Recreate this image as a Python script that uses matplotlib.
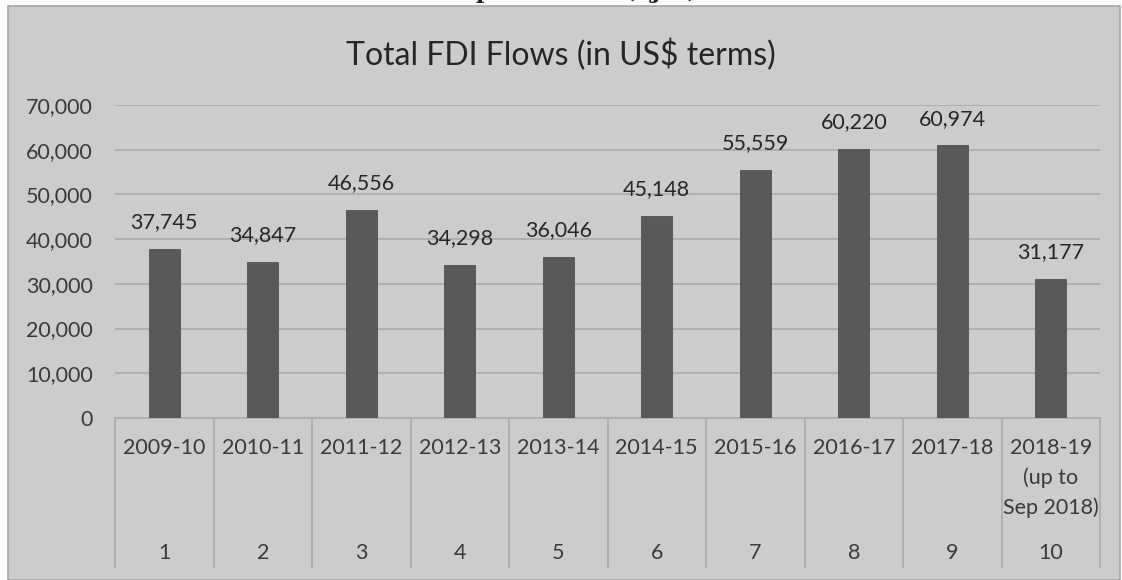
import matplotlib.pyplot as plt
from matplotlib.patches import Rectangle
from matplotlib.ticker import FuncFormatter

# FDI inflows by financial year (US$ million)
years = ["2009-10", "2010-11", "2011-12", "2012-13", "2013-14",
         "2014-15", "2015-16", "2016-17", "2017-18", "2018-19\n(up to\nSep 2018)"]
serial = ["1", "2", "3", "4", "5", "6", "7", "8", "9", "10"]
fdi = [37745, 34847, 46556, 34298, 36046, 45148, 55559, 60220, 60974, 31177]

BG = "#cccccc"
TXT = "#3a3a3a"
FS = 15.5
plt.rcParams["font.family"] = ["Lato", "DejaVu Sans"]

W, H = 1122, 580
fig = plt.figure(figsize=(W / 100, H / 100), dpi=100)
fig.patch.set_facecolor("white")

# chart frame
fig.patches.append(Rectangle((8 / W, 0), 1112 / W, 1 - 6 / H, transform=fig.transFigure,
                             facecolor=BG, edgecolor="#a6a6a6", linewidth=1.2, zorder=-5))
# page header cut off at the top edge
fig.text(0.55, 1 - 3 / H, "Impact Factor (SJIF) - 6.286", ha="center", va="bottom",
         fontsize=16, fontweight="bold", family="DejaVu Serif", color="#222222")

x0, x1, ytop, ybot = 115, 1100, 105, 418
ax = fig.add_axes([x0 / W, 1 - ybot / H, (x1 - x0) / W, (ybot - ytop) / H])
ax.set_facecolor("none")

pos = range(len(fdi))
bars = ax.bar(pos, fdi, width=0.31, color="#595959", edgecolor="#505050", linewidth=0.6, zorder=3)
ax.bar_label(bars, labels=[f"{v:,}" for v in fdi], padding=12, fontsize=FS, color="#262626")

ax.set_xlim(-0.5, len(fdi) - 0.5)
ax.set_ylim(0, 70000)
ax.set_yticks(range(0, 70001, 10000))
ax.yaxis.set_major_formatter(FuncFormatter(lambda v, _: f"{v:,.0f}"))
ax.tick_params(axis="y", length=0, pad=16, labelsize=FS, labelcolor=TXT)
ax.grid(axis="y", color="#aeaeae", linewidth=1.3, zorder=0)
ax.set_axisbelow(True)
for s in ["top", "right", "left"]:
    ax.spines[s].set_visible(False)
ax.spines["bottom"].set_color("#aeaeae")
ax.spines["bottom"].set_linewidth(1.3)

# two-level category axis
ax.set_xticks([])
span = ybot - ytop
xt = ax.get_xaxis_transform()
ax.vlines([p - 0.5 for p in range(len(fdi) + 1)], -(568 - ybot) / span, 0, transform=xt,
          color="#aeaeae", linewidth=1.3, clip_on=False)
for p, (yr, n) in enumerate(zip(years, serial)):
    for k, part in enumerate(yr.split("\n")):
        ax.text(p, -(30 + 30 * k) / span, part, transform=xt,
                ha="center", va="center", fontsize=FS, color=TXT)
    ax.text(p, -(553 - ybot) / span, n, transform=xt,
            ha="center", va="center", fontsize=FS, color=TXT)

fig.text(0.5, 1 - 55 / H, "Total FDI Flows (in US$ terms)", ha="center", va="center",
         fontsize=23, color="#262626")

fig.savefig("out.png", dpi=100, facecolor=fig.get_facecolor())
